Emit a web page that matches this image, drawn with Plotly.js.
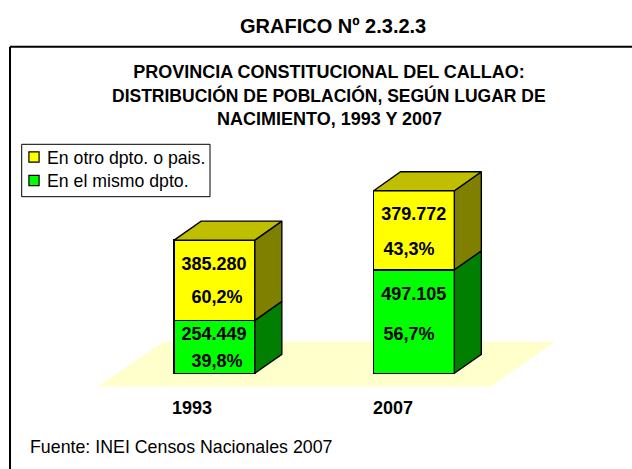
<!DOCTYPE html>
<html><head><meta charset="utf-8">
<script src="https://cdn.plot.ly/plotly-3.0.1.min.js"></script>
<style>html,body{margin:0;padding:0;background:#fff}</style></head>
<body><div id="c" style="width:632px;height:469px"></div>
<script>
const categories=[0,1];
const tickPositions=[-0.113,0.895];
const tickLabels=['1993','2007'];
const seriesGreen=[254449,497105];
const seriesYellow=[385280,379772];
const nameGreen='En el mismo dpto.';
const nameYellow='En otro dpto. o pais.';
const labelX=[-0.002,0.013,-0.002,0.013,0.999,0.975,0.999,0.975];
const labelY=[516000,360000,180000,53000,760000,591000,372000,180000];
const labelText=['385.280','60,2%','254.449','39,8%','379.772','43,3%','497.105','56,7%'];
const barW=0.4045, depthX=0.1353, depthY=91257;
const floorX=[-0.587,-0.256,1.707,1.381], floorY=[-65000,151000,151000,-65000];
const cGreen='#00ff00',cYellow='#ffff00',cGreenSide='#007f00',cYellowSide='#808000',cYellowTop='#bfbf00';
const ln={color:'#000',width:1.4};
function face(px,py,fill){return {type:'scatter',mode:'lines',x:px.concat(px[0]),y:py.concat(py[0]),fill:'toself',fillcolor:fill,line:ln,showlegend:false,hoverinfo:'skip'};}
const traces=[
 {type:'bar',x:categories,y:seriesGreen,name:nameGreen,width:barW,marker:{color:cGreen,line:{color:'#000',width:1.4}}},
 {type:'bar',x:categories,y:seriesYellow,name:nameYellow,width:barW,marker:{color:cYellow,line:{color:'#000',width:1.4}}}
];
categories.forEach((c,i)=>{
 const r=c+barW/2,l=c-barW/2,g=seriesGreen[i],t=g+seriesYellow[i];
 traces.push(face([r,r+depthX,r+depthX,r],[0,depthY,g+depthY,g],cGreenSide));
 traces.push(face([r,r+depthX,r+depthX,r],[g,g+depthY,t+depthY,t],cYellowSide));
 traces.push(face([l,l+depthX,r+depthX,r],[t,t+depthY,t+depthY,t],cYellowTop));
});
traces.push({type:'scatter',mode:'text',x:labelX,y:labelY,text:labelText,textposition:'middle center',showlegend:false,hoverinfo:'skip',cliponaxis:false,
 textfont:{family:'Liberation Sans',size:18,color:'#000',weight:700}});
const floorPath='M'+floorX.map((v,i)=>v+','+floorY[i]).join('L')+'Z';
const px=v=>(v-90)/480, py=v=>(390-v)/220;
const titleLine=(t,y,s)=>({text:'<b>'+t+'</b>',xref:'paper',yref:'paper',x:px(329),y:py(y),xanchor:'center',yanchor:'middle',showarrow:false,font:{size:s}});
const layout={
 width:632,height:469,paper_bgcolor:'#fff',plot_bgcolor:'rgba(0,0,0,0)',barmode:'stack',
 margin:{l:90,r:62,t:170,b:79,autoexpand:false},
 font:{family:'Liberation Sans',color:'#000'},
 title:{text:'<b>PROVINCIA CONSTITUCIONAL DEL CALLAO:</b>',
  font:{size:18,family:'Liberation Sans'},x:329/632,xanchor:'center',xref:'container',y:1-71.5/469,yanchor:'middle',automargin:false},
 xaxis:{range:[-0.624,1.782],tickmode:'array',tickvals:tickPositions,ticktext:tickLabels,showgrid:false,zeroline:false,showline:false,ticks:'outside',ticklen:1,tickcolor:'rgba(0,0,0,0)',
  tickfont:{size:18,family:'Liberation Sans',weight:700}},
 yaxis:{range:[-80210,976450],visible:false,showgrid:false,zeroline:false},
 legend:{xref:'container',yref:'container',x:7/632,xanchor:'left',y:1-139/469,yanchor:'top',traceorder:'reversed',bgcolor:'rgba(0,0,0,0)',font:{size:17.7,family:'Liberation Sans'},itemclick:false},
 shapes:[
  {type:'line',xref:'paper',yref:'paper',x0:px(10),x1:px(632),y0:py(46.7),y1:py(46.7),line:{color:'#000',width:2},layer:'below'},
  {type:'line',xref:'paper',yref:'paper',x0:px(10),x1:px(10),y0:py(46.7),y1:py(469),line:{color:'#000',width:2},layer:'below'},
  {type:'rect',xref:'paper',yref:'paper',x0:px(21.7),x1:px(210),y0:py(196.7),y1:py(144.3),line:{color:'#000',width:1},layer:'below'},
  {type:'path',xref:'x',yref:'y',path:floorPath,fillcolor:'#ffffcc',line:{width:0},layer:'below'}
 ],
 annotations:[
  {text:'<b>GRAFICO Nº 2.3.2.3</b>',xref:'paper',yref:'paper',x:px(333),y:py(26),xanchor:'center',yanchor:'middle',showarrow:false,font:{size:20}},
  titleLine('DISTRIBUCIÓN DE POBLACIÓN, SEGÚN LUGAR DE',95.5,17.5),
  titleLine('NACIMIENTO, 1993 Y 2007',118.5,18),
  {text:'Fuente: INEI Censos Nacionales 2007',xref:'paper',yref:'paper',x:px(28),y:py(447),xanchor:'left',yanchor:'middle',showarrow:false,font:{size:17.8}}
 ]
};
Plotly.newPlot('c',traces,layout,{displayModeBar:false,staticPlot:true}).then(()=>{
 document.querySelectorAll('.legend .legendsymbols').forEach(s=>s.setAttribute('transform','translate(10,0) scale(0.85)'));
 const rows=document.querySelectorAll('.legend .traces');
 rows.forEach((r,i)=>{const m=/translate\(([^,]+),\s*([^)]+)\)/.exec(r.getAttribute('transform'));
  if(m&&i>0) r.setAttribute('transform','translate('+m[1]+','+(parseFloat(m[2])-2.5*i)+')');});
});
</script></body></html>
